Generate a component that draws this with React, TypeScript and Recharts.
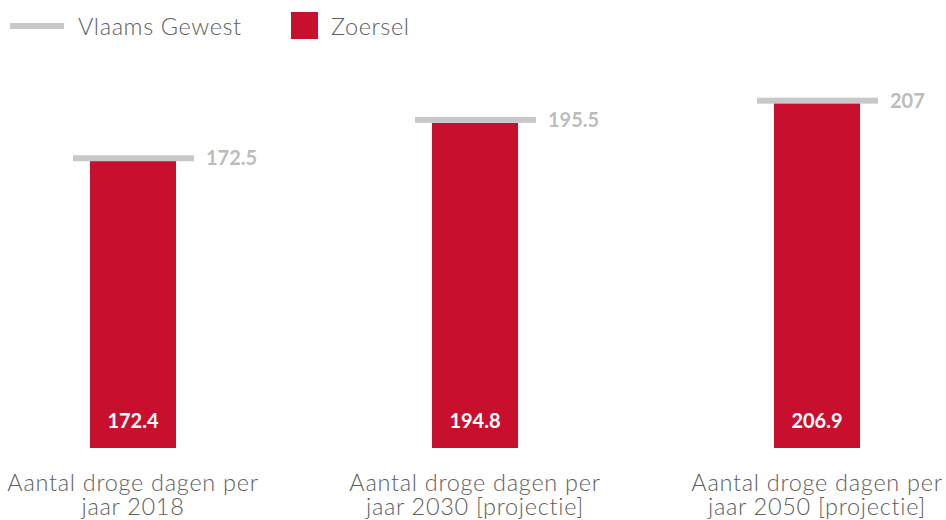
import React from "react";
import { ComposedChart, Bar, Line, XAxis, YAxis, LabelList } from "recharts";

const categoryLines = [
  ["Aantal droge dagen per", "jaar 2018"],
  ["Aantal droge dagen per", "jaar 2030 [projectie]"],
  ["Aantal droge dagen per", "jaar 2050 [projectie]"],
];
const zoersel = [172.4, 194.8, 206.9];
const vlaamsGewest = [172.5, 195.5, 207];

const RED = "#c8102e";
const GREY_LINE = "#c8c8c8";
const GREY_LABEL = "#bcbcbc";
const TEXT = "#5e5e5e";
const FONT = "Lato, 'Open Sans', sans-serif";

const data = categoryLines.map((lines, i) => ({
  name: lines.join(" "),
  lines,
  zoersel: zoersel[i],
  vlaams: vlaamsGewest[i],
}));

// shift the plot so the outer bands run past the page edges
const OFFSET_X = 38;

function MarkerDot(props: any) {
  const { cx, cy, index } = props;
  if (cx == null || cy == null) return null;
  return <rect key={`m-${index}`} x={cx - 60} y={cy - 5} width={121} height={6} fill={GREY_LINE} />;
}

function MarkerLabel(props: any) {
  const { x, y, value } = props;
  return (
    <text x={x + 73} y={y - 2} dy="0.35em" fill={GREY_LABEL} fontSize={20} fontWeight={700} fontFamily={FONT}>
      {value}
    </text>
  );
}

function BarValue(props: any) {
  const { x, y, width, height, value } = props;
  return (
    <text
      x={x + width / 2}
      y={y + height - 27}
      dy="0.35em"
      textAnchor="middle"
      fill="#ffffff"
      fontSize={20}
      fontWeight={700}
      fontFamily={FONT}
    >
      {value}
    </text>
  );
}

function CategoryTick(props: any) {
  const { x, y, payload, index } = props;
  const lines = categoryLines[index] ?? [payload.value];
  return (
    <text
      x={x}
      y={y}
      textAnchor="middle"
      fill={TEXT}
      fontSize={23.5}
      fontWeight={300}
      letterSpacing={0.7}
      fontFamily={FONT}
    >
      {lines.map((l: string, i: number) => (
        <tspan key={i} x={x} dy={i === 0 ? 35 : 24}>
          {l}
        </tspan>
      ))}
    </text>
  );
}

const legendText: React.CSSProperties = {
  position: "absolute",
  top: 12,
  fontFamily: FONT,
  fontSize: 23.5,
  fontWeight: 300,
  letterSpacing: 0.6,
  color: TEXT,
  lineHeight: "28px",
  whiteSpace: "nowrap",
};

function ChartLegend() {
  return (
    <div style={{ position: "absolute", left: 0, top: 0, width: 946, height: 50 }}>
      <span style={{ position: "absolute", left: 10, top: 23, width: 54, height: 6, background: GREY_LINE }} />
      <span style={{ ...legendText, left: 78 }}>Vlaams Gewest</span>
      <span style={{ position: "absolute", left: 291, top: 12, width: 27, height: 27, background: RED }} />
      <span style={{ ...legendText, left: 331 }}>Zoersel</span>
    </div>
  );
}

export default function App() {
  return (
    <div style={{ position: "absolute", left: 0, top: 0, width: 946, height: 520, overflow: "hidden", background: "#fff" }}>
      <div style={{ position: "absolute", left: -OFFSET_X, top: 0 }}>
        <ComposedChart width={1026} height={520} data={data} margin={{ top: 81, right: 0, left: 0, bottom: 0 }}>
          <XAxis dataKey="name" axisLine={false} tickLine={false} height={72} interval={0} tick={<CategoryTick />} />
          <YAxis hide domain={[0, 220]} />
          <Bar dataKey="zoersel" name="Zoersel" fill={RED} barSize={86} isAnimationActive={false}>
            <LabelList dataKey="zoersel" content={<BarValue />} />
          </Bar>
          <Line
            dataKey="vlaams"
            name="Vlaams Gewest"
            stroke="none"
            dot={(p: any) => <MarkerDot {...p} />}
            activeDot={false}
            isAnimationActive={false}
          >
            <LabelList dataKey="vlaams" content={<MarkerLabel />} />
          </Line>
        </ComposedChart>
      </div>
      <ChartLegend />
    </div>
  );
}
